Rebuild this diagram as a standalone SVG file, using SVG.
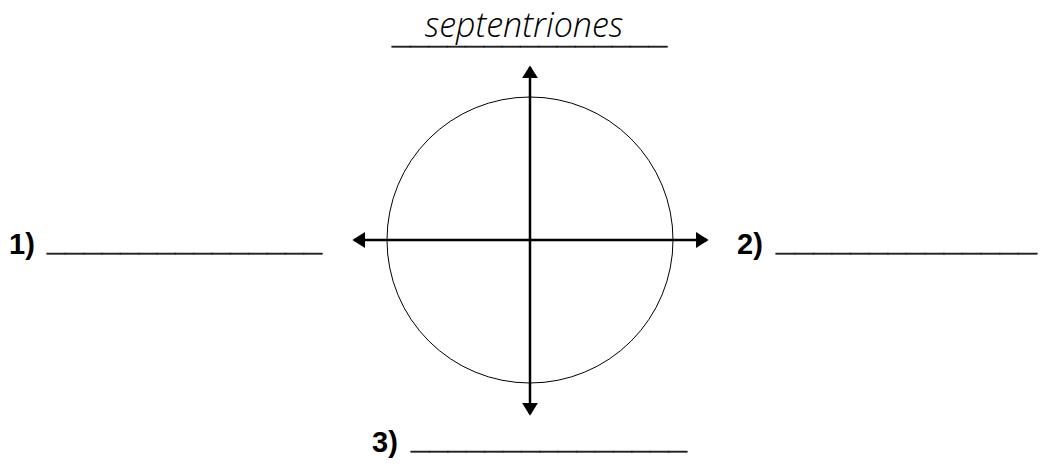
<svg xmlns="http://www.w3.org/2000/svg" width="1041" height="464" viewBox="0 0 1041 464">
<style>
.num{font-family:"Liberation Sans",Arial,sans-serif;font-weight:bold;font-size:29px;fill:#000}
.us{font-family:"Liberation Sans",Arial,sans-serif;font-weight:bold;font-size:32px;fill:#222;stroke:#222;stroke-width:0.6}
.cur{font-family:"Open Sans","DejaVu Sans",sans-serif;font-style:italic;font-weight:300;font-size:34px;fill:#000}
.ax{stroke:#000;stroke-width:2.5;fill:none}
</style>
<defs>
<marker id="ah" viewBox="0 0 8 10" refX="7" refY="5" markerWidth="5.2" markerHeight="6.5" markerUnits="strokeWidth" orient="auto">
<path d="M0,0 L8,5 L0,10 z" fill="#000"/>
</marker>
</defs>
<rect width="1041" height="464" fill="#fff"/>
<g id="title">
<text class="cur" x="524" y="37" text-anchor="middle">septentriones</text>
<text class="us" x="392" y="43" textLength="275" lengthAdjust="spacingAndGlyphs">_______________</text>
</g>
<g id="compass">
<circle cx="530" cy="240" r="143" fill="none" stroke="#000" stroke-width="1"/>
</g>
<g id="connectors">
<line class="ax" x1="530" y1="240" x2="530" y2="67" marker-end="url(#ah)"/>
<line class="ax" x1="530" y1="240" x2="530" y2="414" marker-end="url(#ah)"/>
<line class="ax" x1="530" y1="240" x2="354" y2="240" marker-end="url(#ah)"/>
<line class="ax" x1="530" y1="240" x2="707" y2="240" marker-end="url(#ah)"/>
</g>
<g id="label1">
<text class="num" x="9" y="254">1)</text>
<text class="us" x="47" y="250" textLength="275" lengthAdjust="spacingAndGlyphs">_______________</text>
</g>
<g id="label2">
<text class="num" x="737" y="254">2)</text>
<text class="us" x="776" y="250" textLength="261" lengthAdjust="spacingAndGlyphs">______________</text>
</g>
<g id="label3">
<text class="num" x="372" y="452">3)</text>
<text class="us" x="411" y="448" textLength="276" lengthAdjust="spacingAndGlyphs">_______________</text>
</g>
</svg>
